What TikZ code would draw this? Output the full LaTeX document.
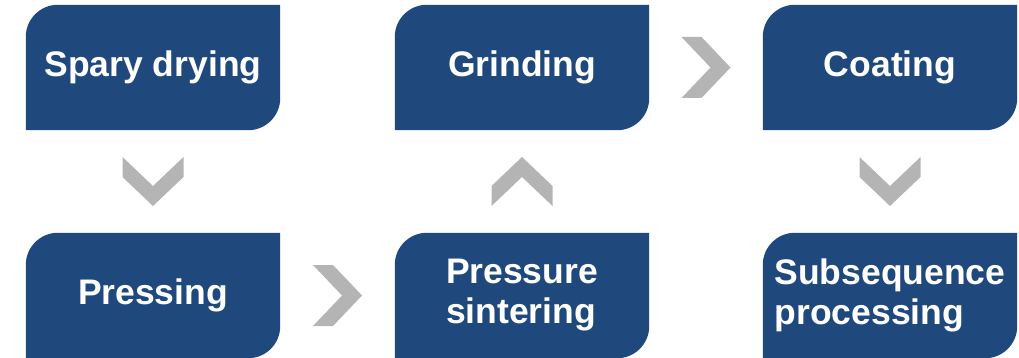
\documentclass[tikz,border=0pt]{standalone}
\usepackage{fontspec}
\setmainfont{Liberation Sans}
\usetikzlibrary{backgrounds,calc}
\definecolor{boxblue}{HTML}{1F497D}
\definecolor{chevgray}{HTML}{B4B4B4}
\tikzset{
  stepbox/.style={minimum width=254pt, minimum height=125pt, inner sep=0pt,
    text=white, align=left, font=\bfseries\fontsize{35.5}{40}\selectfont},
  chev/.pic={\fill[chevgray] (-24.5pt,30.5pt) -- (-4.5pt,30.5pt) -- (24.5pt,0pt)
     -- (-4.5pt,-30.5pt) -- (-24.5pt,-30.5pt) -- (4.5pt,0pt) -- cycle;}
}
\newcommand{\boxshape}[1]{%
  \fill[boxblue] (#1.south west) -- ([yshift=-32pt]#1.north west)
    arc[start angle=180,end angle=90,radius=32pt] -- (#1.north east)
    -- ([yshift=32pt]#1.south east)
    arc[start angle=0,end angle=-90,radius=32pt] -- cycle;}
\begin{document}
\begin{tikzpicture}[x=1pt,y=-1pt]
\useasboundingbox (0,0) rectangle (1019,358);
\node[stepbox] (spray) at (153,67.5) {Spary drying};
\node[stepbox] (grind) at (522,67.5) {Grinding};
\node[stepbox] (coat) at (890,67.5) {Coating};
\node[stepbox] (press) at (153,295.5) {Pressing};
\node[stepbox] (sinter) at (522,295.5) {Pressure\\sintering};
\node[stepbox] (subseq) at (890,295.5) {Subsequence\\processing};
\begin{scope}[on background layer]
\boxshape{spray}\boxshape{grind}\boxshape{coat}
\boxshape{press}\boxshape{sinter}\boxshape{subseq}
\end{scope}
\pic[rotate=-90] at ($(spray.south)!0.5!(press.north)$) {chev};
\pic at ($(press.east)!0.5!(sinter.west)$) {chev};
\pic[rotate=90] at ($(sinter.north)!0.5!(grind.south)$) {chev};
\pic at ($(grind.east)!0.5!(coat.west)$) {chev};
\pic[rotate=-90] at ($(coat.south)!0.5!(subseq.north)$) {chev};
\end{tikzpicture}
\end{document}
